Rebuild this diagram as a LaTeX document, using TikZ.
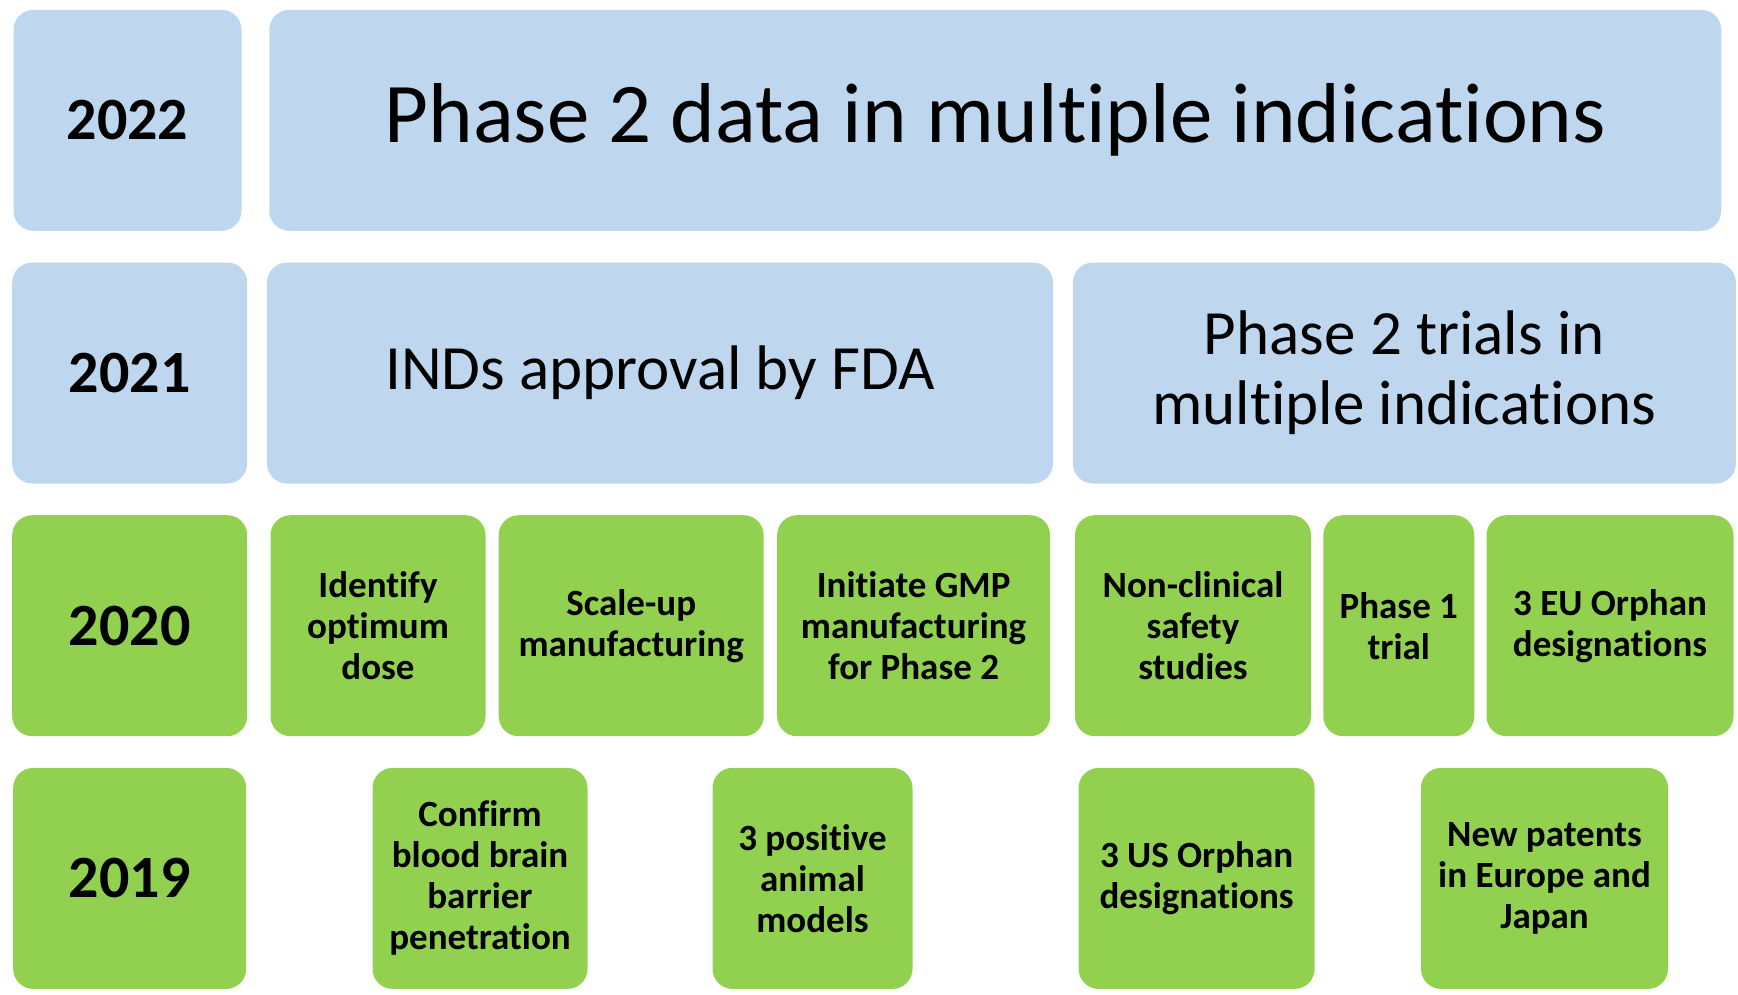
\documentclass[tikz,border=0pt]{standalone}
\usepackage{fontspec}
\setmainfont{Carlito}[Ligatures=CommonOff]
\usepackage{xcolor}
\usepackage{tikz}
\usetikzlibrary{positioning}
\definecolor{planblue}{RGB}{190, 215, 238}
\definecolor{stepgreen}{RGB}{146, 208, 80}

\begin{document}
\begin{tikzpicture}[x=1pt, y=-1pt,
    cell/.style={rounded corners=20pt, inner sep=0pt, minimum height=221pt, align=center},
    bluecell/.style={cell, fill=planblue},
    greencell/.style={cell, fill=stepgreen, font=\fontsize{37}{41}\selectfont\bfseries},
    yeartext/.style={font=\fontsize{60}{66}\selectfont\bfseries},
    bigtext/.style={font=\fontsize{85}{94}\selectfont},
    midtext/.style={font=\fontsize{63}{70}\selectfont}]
    \useasboundingbox (0, 0) rectangle (1738, 994);

    % 2022
    \node[bluecell, yeartext, minimum width=228pt] (y2022) at (127.5, 120.3) {2022};
    \node[bluecell, bigtext, minimum width=1452pt] (p2data) at (995.3, 120.3) {Phase 2 data in multiple indications};

    % 2021
    \node[bluecell, yeartext, minimum width=235pt] (y2021) at (129.7, 373) {2021};
    \node[bluecell, midtext, minimum width=786pt] (inds) at (660, 373) {INDs approval by FDA};
    \node[bluecell, midtext, minimum width=663pt] (p2trials) at (1404.4, 373) {Phase 2 trials in\\multiple indications};

    % 2020
    \node[greencell, yeartext, minimum width=235pt] (y2020) at (129.7, 625.7) {2020};
    \node[greencell, minimum width=215pt] (dose) at (378, 625.7) {Identify\\optimum\\dose};
    \node[greencell, minimum width=265pt] (scaleup) at (631.2, 625.7) {Scale-up\\manufacturing};
    \node[greencell, minimum width=273pt] (gmp) at (913.6, 625.7) {Initiate GMP\\manufacturing\\for Phase 2};
    \node[greencell, minimum width=236pt] (nonclin) at (1193, 625.7) {Non-clinical\\safety\\studies};
    \node[greencell, minimum width=151pt] (phase1) at (1398.8, 625.7) {Phase 1\\trial};
    \node[greencell, minimum width=247pt] (euorph) at (1610, 625.7) {3 EU Orphan\\designations};

    % 2019
    \node[greencell, yeartext, minimum width=233pt] (y2019) at (129.7, 878.4) {2019};
    \node[greencell, minimum width=215pt] (bbb) at (480, 878.4) {Confirm\\blood brain\\barrier\\penetration};
    \node[greencell, minimum width=200pt] (animal) at (812.5, 878.4) {3 positive\\animal\\models};
    \node[greencell, minimum width=236pt] (usorph) at (1196.6, 878.4) {3 US Orphan\\designations};
    \node[greencell, minimum width=247pt] (patents) at (1544.5, 878.4) {New patents\\in Europe and\\Japan};
\end{tikzpicture}
\end{document}
